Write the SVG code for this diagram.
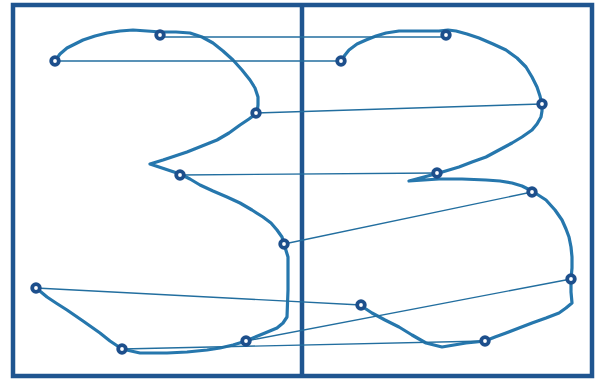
<svg xmlns="http://www.w3.org/2000/svg" width="599" height="381" viewBox="0 0 599 381">
<style>
.frame{fill:none;stroke:#1f5590;stroke-width:4.5}
.curve{fill:none;stroke:#2677ad;stroke-width:3.2;stroke-linejoin:round;stroke-linecap:round}
.conn{fill:none;stroke:#226e9f;stroke-width:1.4}
.pt{fill:#ffffff;stroke:#1d4f8c;stroke-width:3.8}
</style>
<rect width="599" height="381" fill="#ffffff"/>
<rect class="frame" x="13" y="5" width="579" height="371"/>
<line class="frame" x1="302" y1="5" x2="302" y2="376"/>
<g id="curves">
<polyline class="curve" points="55,61 60,54 67,48 75,44 83,40 95,36 107,33 120,31 133,30 147,31 161,32 176,32 190,33 202,37 213,43 223,51 233,60 242,70 250,80 255,88 258,97 258,105 257,113 249,119 240,125 229,133 217,140 202,146 187,152 175,156 163,160 150,164 165,169 180,174 190,179 200,185 213,191 227,197 240,203 252,210 263,217 271,223 277,230 282,237 284,244 288,257 288,273 288,290 287,317 283,323 277,328 265,333 253,338 246,341 233,345 220,348 207,350 187,352 167,353 153,353 140,353 131,351 122,349 110,341 100,333 83,321 67,310 56,303 47,297 41,292 36,288"/>
<polyline class="curve" points="341,61 345,55 349,50 357,44 366,40 376,36 386,33 399,31 412,31 426,31 439,31 448,30 456,31 467,34 479,38 493,44 506,50 517,58 526,67 532,77 537,87 540,96 542,105 542,111 541,117 537,124 532,130 522,137 512,143 499,150 486,157 472,162 459,167 449,170 439,173 424,177 409,181 424,180 439,179 462,179 486,180 500,181 512,183 522,186 532,191 546,200 555,210 562,220 566,229 569,237 571,247 572,257 572,268 571,279 571,292 572,303 566,308 559,313 546,318 532,323 519,328 506,333 495,337 485,341 476,342 466,343 454,345 442,347 434,345 426,343 412,335 399,327 385,320 372,313 366,309 361,306"/>
</g>
<g id="connectors">
<line class="conn" x1="55" y1="61" x2="341" y2="61"/>
<line class="conn" x1="160" y1="37" x2="446" y2="37"/>
<line class="conn" x1="256" y1="113" x2="542" y2="104"/>
<line class="conn" x1="180" y1="175" x2="437" y2="173"/>
<line class="conn" x1="284" y1="244" x2="532" y2="192"/>
<line class="conn" x1="36" y1="288" x2="361" y2="305"/>
<line class="conn" x1="246" y1="341" x2="571" y2="279"/>
<line class="conn" x1="122" y1="349" x2="485" y2="341"/>
</g>
<g id="L1"><circle class="pt" cx="55" cy="61" r="3.8"/></g>
<g id="L2"><circle class="pt" cx="160" cy="35" r="3.8"/></g>
<g id="L3"><circle class="pt" cx="256" cy="113" r="3.8"/></g>
<g id="L4"><circle class="pt" cx="180" cy="175" r="3.8"/></g>
<g id="L5"><circle class="pt" cx="284" cy="244" r="3.8"/></g>
<g id="L6"><circle class="pt" cx="36" cy="288" r="3.8"/></g>
<g id="L7"><circle class="pt" cx="122" cy="349" r="3.8"/></g>
<g id="L8"><circle class="pt" cx="246" cy="341" r="3.8"/></g>
<g id="R1"><circle class="pt" cx="341" cy="61" r="3.8"/></g>
<g id="R2"><circle class="pt" cx="446" cy="35" r="3.8"/></g>
<g id="R3"><circle class="pt" cx="542" cy="104" r="3.8"/></g>
<g id="R4"><circle class="pt" cx="437" cy="173" r="3.8"/></g>
<g id="R5"><circle class="pt" cx="532" cy="192" r="3.8"/></g>
<g id="R6"><circle class="pt" cx="571" cy="279" r="3.8"/></g>
<g id="R7"><circle class="pt" cx="361" cy="305" r="3.8"/></g>
<g id="R8"><circle class="pt" cx="485" cy="341" r="3.8"/></g>
</svg>
